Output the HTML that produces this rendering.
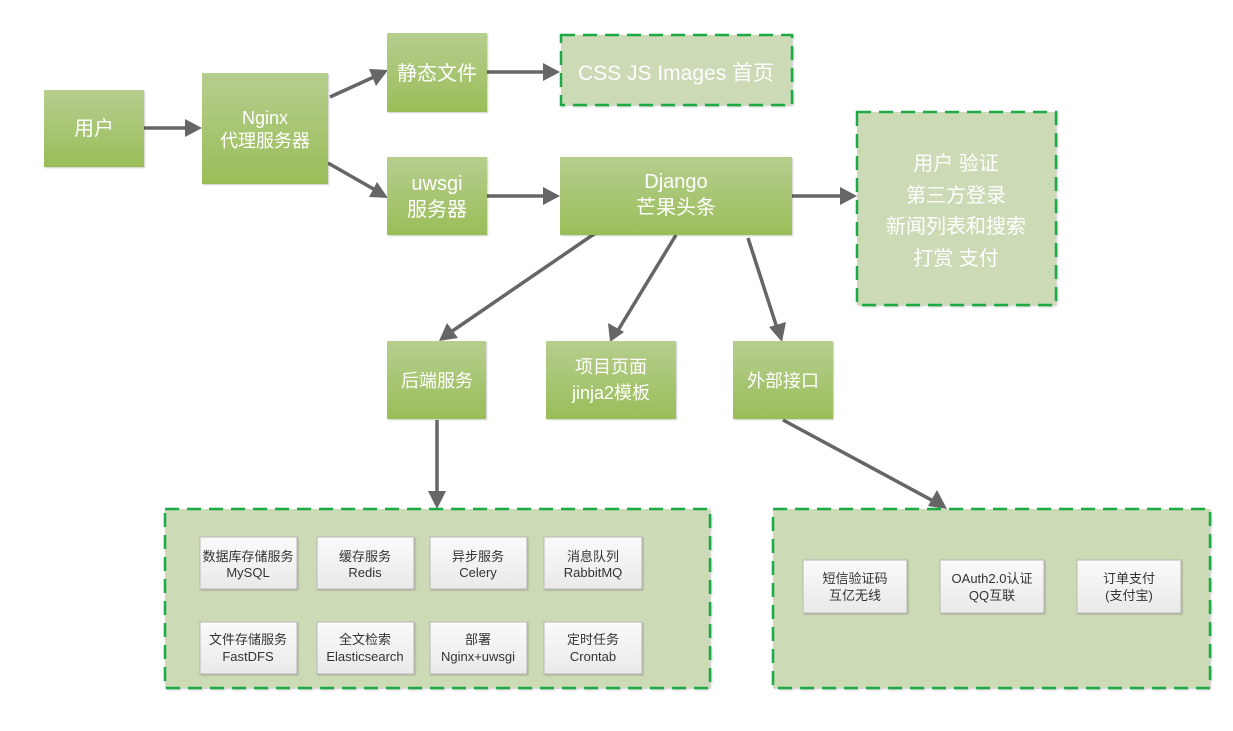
<!DOCTYPE html>
<html><head><meta charset="utf-8"><style>
html,body{margin:0;padding:0;background:#fff;width:1233px;height:731px;overflow:hidden}
svg text{font-family:"Liberation Sans","Noto Sans CJK SC",sans-serif}
</style></head><body>
<svg width="1233" height="731" viewBox="0 0 1233 731" xmlns="http://www.w3.org/2000/svg">
<defs>
<linearGradient id="g" x1="0" y1="0" x2="0" y2="1"><stop offset="0" stop-color="#b6ce8e"/><stop offset="1" stop-color="#9abd58"/></linearGradient>
<linearGradient id="w" x1="0" y1="0" x2="0" y2="1"><stop offset="0" stop-color="#fafafa"/><stop offset="1" stop-color="#e9e9e9"/></linearGradient>
<filter id="s"><feDropShadow dx="1" dy="1" stdDeviation="0.8" flood-color="#000" flood-opacity="0.2"/></filter>
</defs>
<g stroke="#666" stroke-width="3.5" fill="none">
<line x1="144" y1="128" x2="190" y2="128"/>
<line x1="330" y1="97" x2="376" y2="76"/>
<line x1="328" y1="163" x2="377" y2="191"/>
<line x1="487" y1="72" x2="548" y2="72"/>
<line x1="487" y1="196" x2="550" y2="196"/>
<line x1="792" y1="196" x2="846" y2="196"/>
<line x1="597" y1="232" x2="448" y2="334"/>
<line x1="676" y1="235" x2="617" y2="332"/>
<line x1="748" y1="238" x2="778" y2="331"/>
<line x1="437" y1="420" x2="437" y2="497"/>
<line x1="783" y1="420" x2="937" y2="503"/>
</g>
<g fill="#666">
<polygon points="202,128 185,119 185,137"/>
<polygon points="388,70 369,69 376,86"/>
<polygon points="388,198 377,182 369,197"/>
<polygon points="560,72 543,63 543,81"/>
<polygon points="560,196 543,187 543,205"/>
<polygon points="857,196 840,187 840,205"/>
<polygon points="439,341 447,323 458,338"/>
<polygon points="610,342 608,323 624,332"/>
<polygon points="782,342 769,327 786,322"/>
<polygon points="437,509 428,491 446,491"/>
<polygon points="947,509 928,506 937,490"/>
</g>
<g filter="url(#s)" fill="url(#g)">
<rect x="44" y="90" width="100" height="77"/>
<rect x="202" y="73" width="126" height="111"/>
<rect x="387" y="33" width="100" height="79"/>
<rect x="387" y="157" width="100" height="78"/>
<rect x="560" y="157" width="232" height="78"/>
<rect x="387" y="341" width="99" height="78"/>
<rect x="546" y="341" width="130" height="78"/>
<rect x="733" y="341" width="100" height="78"/>
</g>
<g fill="#ccdab6" stroke="#1aaa44" stroke-width="2.5" stroke-dasharray="14,8" filter="url(#s)">
<rect x="561" y="35" width="231" height="70"/>
<rect x="857" y="112" width="199" height="193"/>
<rect x="165" y="509" width="545" height="179"/>
<rect x="773" y="509" width="437" height="179"/>
</g>
<g fill="url(#w)" stroke="#b8b8b8" stroke-width="1" filter="url(#s)">
<rect x="200" y="537" width="97" height="52"/>
<rect x="317" y="537" width="97" height="52"/>
<rect x="430" y="537" width="97" height="52"/>
<rect x="544" y="537" width="98" height="52"/>
<rect x="200" y="622" width="97" height="52"/>
<rect x="317" y="622" width="97" height="52"/>
<rect x="430" y="622" width="97" height="52"/>
<rect x="544" y="622" width="98" height="52"/>
<rect x="803" y="560" width="104" height="53"/>
<rect x="940" y="560" width="104" height="53"/>
<rect x="1077" y="560" width="104" height="53"/>
</g>
<g fill="#fff" font-size="20" text-anchor="middle">
<text x="94" y="135">用户</text>
<text x="265" y="124" font-size="18">Nginx</text>
<text x="265" y="147" font-size="18">代理服务器</text>
<text x="437" y="80">静态文件</text>
<text x="437" y="190">uwsgi</text>
<text x="437" y="216">服务器</text>
<text x="676" y="188">Django</text>
<text x="676" y="214">芒果头条</text>
<text x="676" y="80" font-size="21">CSS JS Images 首页</text>
<text x="956" y="170">用户 验证</text>
<text x="956" y="202">第三方登录</text>
<text x="956" y="233">新闻列表和搜索</text>
<text x="956" y="265">打赏 支付</text>
<text x="437" y="387" font-size="18">后端服务</text>
<text x="611" y="373" font-size="18">项目页面</text>
<text x="611" y="399" font-size="18">jinja2模板</text>
<text x="783" y="387" font-size="18">外部接口</text>
</g>
<g fill="#333" font-size="13" text-anchor="middle">
<text x="248" y="561">数据库存储服务</text><text x="248" y="577">MySQL</text>
<text x="365" y="561">缓存服务</text><text x="365" y="577">Redis</text>
<text x="478" y="561">异步服务</text><text x="478" y="577">Celery</text>
<text x="593" y="561">消息队列</text><text x="593" y="577">RabbitMQ</text>
<text x="248" y="644">文件存储服务</text><text x="248" y="661">FastDFS</text>
<text x="365" y="644">全文检索</text><text x="365" y="661">Elasticsearch</text>
<text x="478" y="644">部署</text><text x="478" y="661">Nginx+uwsgi</text>
<text x="593" y="644">定时任务</text><text x="593" y="661">Crontab</text>
<text x="855" y="583">短信验证码</text><text x="855" y="600">互亿无线</text>
<text x="992" y="583">OAuth2.0认证</text><text x="992" y="600">QQ互联</text>
<text x="1129" y="583">订单支付</text><text x="1129" y="600">(支付宝)</text>
</g>
</svg>
</body></html>
